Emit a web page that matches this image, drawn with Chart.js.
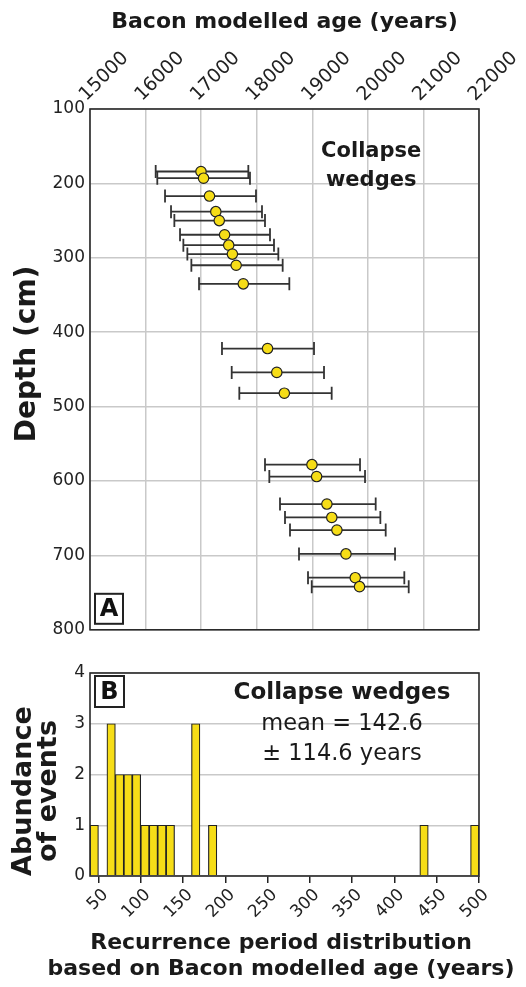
<!DOCTYPE html>
<html>
<head>
<meta charset="utf-8">
<script src="https://cdn.jsdelivr.net/npm/chart.js@4.4.1/dist/chart.umd.min.js"></script>
<style>
  html, body { margin: 0; padding: 0; background: #fff; }
  #wrap { position: relative; width: 526px; height: 987px; overflow: hidden; }
  #ageChart { position: absolute; left: 0; top: 0; width: 526px; height: 645px; }
  #recChart { position: absolute; left: 0; top: 645px; width: 526px; height: 342px; }
</style>
</head>
<body>
<div id="wrap">
  <canvas id="ageChart" width="526" height="645"></canvas>
  <canvas id="recChart" width="526" height="342"></canvas>
</div>
<script>
// ---- Panel A: Bacon modelled ages of the collapse wedges ----
const depthCm   = [184, 193, 217, 238, 250, 269, 283, 295, 310, 335, 422, 454, 482, 578, 594, 631, 649, 666, 698, 730, 742];
const ageMedian = [16997, 17043, 17150, 17264, 17326, 17422, 17496, 17562, 17630, 17758, 18195, 18361, 18497, 18994, 19078, 19263, 19351, 19443, 19606, 19773, 19850];
const ageMin    = [16182, 16211, 16350, 16458, 16518, 16620, 16680, 16752, 16824, 16962, 17375, 17550, 17687, 18149, 18227, 18419, 18509, 18599, 18761, 18923, 18990];
const ageMax    = [17849, 17879, 17987, 18095, 18149, 18239, 18311, 18389, 18467, 18587, 19031, 19211, 19349, 19859, 19949, 20141, 20225, 20321, 20489, 20656, 20735];
const ageTicks   = [15000, 16000, 17000, 18000, 19000, 20000, 21000, 22000];
const depthTicks = [100, 200, 300, 400, 500, 600, 700, 800];

// ---- Panel B: recurrence period histogram (10-year bins) ----
const binWidth = 10;
const binStart = [40, 60, 70, 80, 90, 100, 110, 120, 130, 160, 180, 430, 490];
const binCount = [1, 3, 2, 2, 2, 1, 1, 1, 1, 3, 1, 1, 1];
const recurrenceTicks = [50, 100, 150, 200, 250, 300, 350, 400, 450, 500];
const countTicks = [0, 1, 2, 3, 4];
const meanText = 'mean = 142.6';
const sdText = '\u00B1 114.6 years';

const FONT = "'DejaVu Sans', 'Liberation Sans', Arial, sans-serif";
const INK = '#222';
const GRID = '#c9c9c9';
const YELLOW = '#F6DD17';

const fixedTicks = values => scale => { scale.ticks = values.map(v => ({ value: v })); };

// Horizontal error bars drawn beneath the markers
const errorBars = {
  id: 'errorBars',
  beforeDatasetsDraw(chart) {
    const { ctx, scales: { x, y } } = chart;
    ctx.save();
    ctx.strokeStyle = '#333';
    ctx.lineWidth = 1.8;
    depthCm.forEach((d, i) => {
      const py = y.getPixelForValue(d);
      const x0 = x.getPixelForValue(ageMin[i]);
      const x1 = x.getPixelForValue(ageMax[i]);
      ctx.beginPath();
      ctx.moveTo(x0, py); ctx.lineTo(x1, py);
      ctx.moveTo(x0, py - 6.5); ctx.lineTo(x0, py + 6.5);
      ctx.moveTo(x1, py - 6.5); ctx.lineTo(x1, py + 6.5);
      ctx.stroke();
    });
    ctx.restore();
  }
};

// Frame round the plot area, panel letter, text notes and axis captions
const panelDecor = {
  id: 'panelDecor',
  afterDatasetsDraw(chart, args, opts) {
    const { ctx, chartArea: a, scales: { x, y } } = chart;
    ctx.save();
    ctx.strokeStyle = '#2a2a2a';
    ctx.lineWidth = 1.6;
    ctx.strokeRect(a.left, a.top, a.right - a.left, a.bottom - a.top);

    // panel letter in a box
    const b = opts.letterBox;
    const bx = a.left + b.dx;
    const by = b.fromTop ? a.top + b.dy : a.bottom - b.dy - b.h;
    ctx.fillStyle = '#fff';
    ctx.fillRect(bx, by, b.w, b.h);
    ctx.lineWidth = 2;
    ctx.strokeStyle = INK;
    ctx.strokeRect(bx, by, b.w, b.h);
    ctx.fillStyle = '#111';
    ctx.font = `bold 24px ${FONT}`;
    ctx.textAlign = 'center';
    ctx.textBaseline = 'middle';
    ctx.fillText(opts.letter, bx + b.w / 2, by + b.h / 2 + 1);

    // notes placed in data coordinates
    opts.notes.forEach(n => {
      ctx.font = `${n.bold ? 'bold ' : ''}${n.size}px ${FONT}`;
      ctx.fillStyle = '#1a1a1a';
      ctx.fillText(n.text, x.getPixelForValue(n.x), y.getPixelForValue(n.y));
    });

    // axis captions, placed in canvas pixels
    (opts.captions || []).forEach(c => {
      ctx.save();
      ctx.translate(c.px, c.py);
      if (c.rot) ctx.rotate(c.rot);
      ctx.font = `bold ${c.size}px ${FONT}`;
      ctx.fillStyle = '#1a1a1a';
      ctx.fillText(c.text, 0, 0);
      ctx.restore();
    });
    ctx.restore();
  }
};

new Chart(document.getElementById('ageChart'), {
  type: 'scatter',
  data: {
    datasets: [{
      data: depthCm.map((d, i) => ({ x: ageMedian[i], y: d })),
      pointRadius: 5.2,
      pointBackgroundColor: YELLOW,
      pointBorderColor: INK,
      pointBorderWidth: 1.2
    }]
  },
  options: {
    responsive: false,
    animation: false,
    layout: { padding: { left: 0, right: 47, top: 0, bottom: 6 } },
    plugins: {
      legend: { display: false },
      tooltip: { enabled: false },
      panelDecor: {
        letter: 'A',
        letterBox: { dx: 5, dy: 6, w: 28, h: 30, fromTop: false },
        notes: [
          { text: 'Collapse', x: 20060, y: 157, size: 21, bold: true },
          { text: 'wedges', x: 20060, y: 196, size: 21, bold: true }
        ],
        captions: [
          { text: 'Depth (cm)', px: 28, py: 354, rot: -Math.PI / 2, size: 28 }
        ]
      }
    },
    scales: {
      x: {
        type: 'linear',
        position: 'top',
        min: 15000,
        max: 22000,
        afterBuildTicks: fixedTicks(ageTicks),
        afterFit: s => { s.height = 109; },
        ticks: {
          autoSkip: false,
          minRotation: 45,
          maxRotation: 45,
          padding: 3,
          labelOffset: 9,
          color: INK,
          font: { family: FONT, size: 19 },
          callback: v => String(v)
        },
        grid: { color: GRID, lineWidth: 1.5, drawTicks: false },
        border: { display: false },
        title: {
          display: true,
          text: 'Bacon modelled age (years)',
          color: '#1a1a1a',
          font: { family: FONT, size: 22, weight: 'bold' },
          padding: { top: 9, bottom: 0 }
        }
      },
      y: {
        type: 'linear',
        reverse: true,
        min: 100,
        max: 800,
        afterBuildTicks: fixedTicks(depthTicks),
        afterFit: s => { s.width = 90; },
        ticks: {
          padding: 5,
          color: INK,
          font: { family: FONT, size: 17 },
          callback: v => String(v)
        },
        grid: { color: GRID, lineWidth: 1.5, drawTicks: false },
        border: { display: false }
      }
    }
  },
  plugins: [errorBars, panelDecor]
});

new Chart(document.getElementById('recChart'), {
  type: 'bar',
  data: {
    datasets: [{
      data: binStart.map((s, i) => ({ x: s + binWidth / 2, y: binCount[i] })),
      backgroundColor: YELLOW,
      borderColor: INK,
      borderWidth: 1.2,
      barPercentage: 1,
      categoryPercentage: 1
    }]
  },
  options: {
    responsive: false,
    animation: false,
    layout: { padding: { left: 0, right: 47, top: 28, bottom: 0 } },
    plugins: {
      legend: { display: false },
      tooltip: { enabled: false },
      panelDecor: {
        letter: 'B',
        letterBox: { dx: 5, dy: 3, w: 29, h: 31, fromTop: true },
        notes: [
          { text: 'Collapse wedges', x: 338, y: 3.6, size: 23, bold: true },
          { text: meanText, x: 338, y: 3.0, size: 22.5, bold: false },
          { text: sdText, x: 338, y: 2.41, size: 22.5, bold: false }
        ],
        captions: [
          { text: 'Abundance', px: 24, py: 146, rot: -Math.PI / 2, size: 27 },
          { text: 'of events', px: 49, py: 146, rot: -Math.PI / 2, size: 27 },
          { text: 'Recurrence period distribution', px: 281, py: 298, rot: 0, size: 22 },
          { text: 'based on Bacon modelled age (years)', px: 281, py: 324, rot: 0, size: 22 }
        ]
      }
    },
    scales: {
      x: {
        type: 'linear',
        position: 'bottom',
        min: 40,
        max: 500,
        offset: false,
        afterBuildTicks: fixedTicks(recurrenceTicks),
        afterFit: s => { s.height = 111; },
        ticks: {
          autoSkip: false,
          minRotation: 45,
          maxRotation: 45,
          padding: 2,
          labelOffset: 7,
          color: INK,
          font: { family: FONT, size: 17 },
          callback: v => String(v)
        },
        grid: { offset: false, drawOnChartArea: false, drawTicks: true, tickLength: 7, tickColor: INK, lineWidth: 1.5 },
        border: { display: false }
      },
      y: {
        type: 'linear',
        min: 0,
        max: 4,
        afterBuildTicks: fixedTicks(countTicks),
        afterFit: s => { s.width = 90; },
        ticks: {
          padding: 5,
          color: INK,
          font: { family: FONT, size: 17 },
          callback: v => String(v)
        },
        grid: { color: GRID, lineWidth: 1.5, drawTicks: false },
        border: { display: false }
      }
    }
  },
  plugins: [panelDecor]
});
</script>
</body>
</html>
